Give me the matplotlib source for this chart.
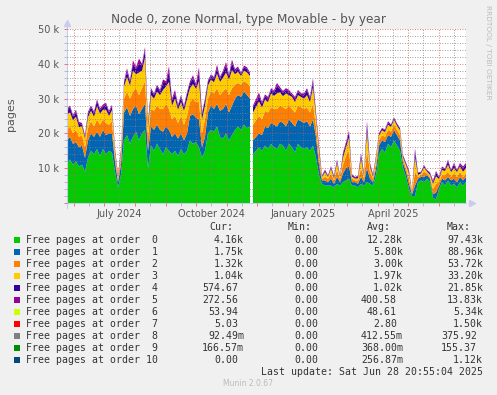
import datetime as dt
import numpy as np
import matplotlib
matplotlib.use("Agg")
from matplotlib import pyplot as plt
import matplotlib.dates as mdates
from matplotlib.patches import Rectangle
from matplotlib.ticker import MultipleLocator, FuncFormatter

W, H = 497, 395
nan = np.nan

# sample days after the first day of the graph (May 25 2024), one every 3 days
start = dt.datetime(2024, 5, 25)
days = [3 * i for i in range(134)] + [399]
days[62], days[63] = 184.5, 186   # no data around Nov 26

# free pages per order, in thousands of pages
order0 = [11.5, 12.5, 11, 12, 10.5, 11, 9, 13, 15, 14, 15.5, 13.5, 15.5, 14, 15, 14.5, 9, 4.5, 8, 18,
          19.5, 17, 19, 20.5, 18, 20, 21, 10, 16.5, 15, 17, 15.5, 14, 16, 15, 14, 15, 13.5, 15.5, 14,
          15, 18, 17, 17.5, 16, 13, 15, 20, 21, 20.5, 22, 19, 18.5, 20, 18, 19.5, 21, 22, 21, 22.5,
          21.5, 22, nan, 14, 16, 15, 16.5, 15.5, 17, 16, 15.5, 17, 16.5, 15, 17, 16, 14.5, 17, 16, 15.5,
          16, 15, 16.5, 13, 8, 5.5, 5, 5, 5, 4.5, 5.5, 5, 6, 6.5, 7, 5, 5, 4.5, 5.5, 5,
          6, 5.5, 5, 8, 14, 15.5, 14.5, 17, 16, 18, 16.5, 15, 10, 7.5, 4, 2, 2, 6, 6.5, 6,
          7, 6, 1.5, 1, 4, 6, 5, 6.5, 5, 5.5, 4.5, 6, 5, 6, 5.5]
order1 = [6.5, 6.5, 6, 5.5, 5.5, 5.5, 4, 5, 5, 5, 5, 5.5, 5.5, 5.5, 5, 5.5, 3, 1.5, 3, 8,
          8, 8, 8, 7.5, 7.5, 7, 7.5, 5, 5.5, 6, 5.5, 5.5, 6.5, 6, 6, 5, 5, 5, 4.5, 4,
          5, 7, 8.5, 7, 8, 3, 4, 6, 7, 6.5, 6.5, 7.5, 8.5, 8.5, 8, 8.5, 9, 9, 9.5, 9.5,
          9.5, 8, nan, 4, 4, 4.5, 5.5, 6, 6, 6.5, 6.5, 6.5, 6.5, 7, 7, 7, 7.5, 7, 7.5, 7.5,
          7.5, 7, 7.5, 6, 3, 1, 1.5, 1, 2, 1, 2, 1, 2.5, 3.5, 3.5, 1, 1, 1, 2, 1,
          4, 1.5, 1, 2, 2.5, 2.5, 3, 2.5, 3, 3, 3, 3, 1.5, 1.5, 1.5, 0.5, 3, 1, 1, 1.5,
          1, 1, 1, 2, 1, 1, 1.5, 1, 1.5, 1.5, 1.5, 1.5, 1.5, 1.5, 1.5]
order2 = [3, 3, 3, 3.5, 3, 3, 3, 3.5, 3.5, 3, 3.5, 3.5, 3, 3.5, 2.5, 3.5, 1.5, 1, 2, 4,
          4.5, 5, 5, 5, 5.5, 6, 6.5, 4, 5, 5.5, 5.5, 6, 6.5, 6.5, 6, 5, 5, 4.5, 5, 4.5,
          5, 4, 4.5, 4.5, 5, 4, 5, 4, 4, 4.5, 4.5, 4.5, 5, 4.5, 5, 5, 4, 3.5, 3.5, 3,
          3.5, 3.5, nan, 4.5, 5, 4.5, 4.5, 4.5, 4.5, 4.5, 5, 4.5, 4.5, 5, 4, 4, 4, 4, 4, 4,
          4, 4, 4.5, 3, 2, 0.5, 1, 1, 1.5, 1, 2, 1, 2.5, 3.5, 4.5, 1, 0.5, 1, 2.5, 1,
          5, 2, 1, 1.5, 1.5, 1.5, 1.5, 1.5, 1.5, 1.5, 1.5, 1.5, 1, 1, 1.5, 0.5, 4, 0.5, 0.5, 1.5,
          0.5, 0.5, 1.5, 2.5, 1, 1, 1.5, 1.5, 1, 1.5, 1.5, 1.5, 1, 1, 1]
order3 = [4.5, 4, 3.8, 3.8, 2.8, 2.5, 2.5, 3.2, 3, 2.8, 3.8, 3.2, 2.8, 3.8, 2.5, 3.2, 1.2, 0.6, 1.5, 3.5,
          4.2, 3.8, 6, 4, 6.5, 5, 6.8, 2.8, 4, 3.5, 4, 4, 5.5, 5, 7.8, 4, 5, 3.8, 4, 4,
          4.8, 4, 4.2, 3.8, 6, 4, 4, 3.8, 3.5, 3.2, 4.2, 3.8, 4, 4.5, 4.5, 5.2, 3, 3.2, 2.5, 3,
          3, 3, nan, 3.5, 4.2, 3.5, 3.2, 3, 4, 3.8, 4.5, 3.8, 3.2, 4.5, 3, 3.5, 3, 3, 3, 3,
          3.5, 3, 4.8, 2.8, 2, 0.5, 1.4, 0.5, 1.4, 0.6, 2, 0.5, 2, 2.5, 3.8, 0.6, 0.5, 0.6, 2.8, 0.9,
          5.5, 1.5, 0.6, 1.4, 1.4, 1.4, 1.4, 1.5, 1.4, 1.4, 1.2, 1.4, 0.6, 0.9, 1.5, 0.2, 4.2, 0.6, 0.5, 1.2,
          0.5, 0.6, 1.5, 2.2, 0.9, 1.5, 1.2, 2, 1.4, 1.5, 1.4, 1.5, 1.5, 1.5, 1.2]
order4 = [1, 1.5, 1, 1.5, 1, 0.5, 0.5, 1, 1, 1, 1.5, 1, 1, 1.5, 1, 1, 0.5, 0.5, 0.5, 1,
          1.5, 1, 2, 1.5, 2.5, 1.5, 2, 1, 1.5, 1, 1.5, 1, 2, 1, 3, 1.5, 1.5, 1, 1.5, 1,
          1.5, 1.5, 1.5, 1, 2.5, 1.5, 1.5, 1, 1, 1, 1.5, 1, 1.5, 2, 1, 2, 1, 1, 0.5, 1,
          1, 0.5, nan, 1.5, 1.5, 1, 1, 1, 1, 1, 2, 1, 1, 1, 1, 0.5, 1, 1, 0.5, 1,
          1.5, 1, 1.5, 1, 1, 0.3, 0.5, 0.3, 0.5, 0.5, 0.5, 0.3, 1, 1, 1.5, 0.5, 0.3, 0.5, 1, 0.5,
          2, 0.5, 0.5, 0.5, 0.5, 0.5, 0.5, 0.5, 0.5, 0.5, 0.5, 0.5, 0.5, 0.5, 0.5, 0.2, 1.5, 0.5, 0.3, 0.5,
          0.3, 0.5, 0.5, 1, 0.5, 0.5, 0.5, 1, 0.5, 1, 0.5, 0.5, 1, 1, 0.5]
order5 = [0.5, 0.5, 0.5, 0.5, 0.5, 0.5, 0.5, 0.5, 0.5, 0.5, 0.5, 0.5, 0.5, 0.5, 0.5, 0.5, 0.5, 0.2, 0.5, 0.5,
          1, 0.5, 1, 0.5, 1.5, 0.5, 1, 0.5, 0.5, 0.5, 0.5, 0.5, 1, 0.5, 1.5, 0.5, 1, 0.5, 0.5, 0.5,
          0.5, 0.5, 1, 0.5, 1.5, 0.5, 0.5, 0.5, 0.5, 0.5, 1, 0.5, 0.5, 1, 0.5, 1, 0.5, 0.5, 0.5, 0.5,
          0.5, 0.5, nan, 0.5, 1, 0.5, 0.5, 0.5, 0.5, 0.5, 1, 0.5, 0.5, 0.5, 0.5, 0.5, 0.5, 0.5, 0.5, 0.5,
          0.5, 0.5, 1, 0.5, 0.5, 0.2, 0.2, 0.2, 0.2, 0.2, 0.5, 0.2, 0.5, 0.5, 0.5, 0.2, 0.2, 0.2, 0.5, 0.2,
          1, 0.5, 0.2, 0.2, 0.2, 0.2, 0.2, 0.5, 0.2, 0.2, 0.2, 0.2, 0.2, 0.2, 0.5, 0.1, 1, 0.2, 0.2, 0.2,
          0.2, 0.2, 0.5, 0.5, 0.2, 0.5, 0.2, 0.5, 0.2, 0.5, 0.2, 0.5, 0.5, 0.5, 0.2]

colors = ["#00CC00", "#0066B3", "#FF8000", "#FFCC00", "#330099", "#990099",
          "#CCFF00", "#FF0000", "#808080", "#008F00", "#00487D"]
labels = ["Free pages at order %2d" % n for n in range(11)]
cur = ["4.16k", "1.75k", "1.32k", "1.04k", "574.67", "272.56", "53.94", "5.03", "92.49m", "166.57m", "0.00"]
mins = ["0.00"] * 11
avg = ["12.28k", "5.80k", "3.00k", "1.97k", "1.02k", "400.58", "48.61", "2.80", "412.55m", "368.00m", "256.87m"]
mx = ["97.43k", "88.96k", "53.72k", "33.20k", "21.85k", "13.83k", "5.34k", "1.50k", "375.92", "155.37", "1.12k"]

fig = plt.figure(figsize=(W / 100, H / 100), dpi=100, facecolor="#F0F0F0")


def fx(px):
    return px / W


def fy(py):
    return 1 - py / H


ax = fig.add_axes([fx(67), fy(203), 399 / W, 174 / H])
ax.set_facecolor("white")

t0 = mdates.date2num(start)
x = [t0 + d for d in days]
layers = [np.array(s) * 1000 for s in (order0, order1, order2, order3, order4, order5)]
ax.stackplot(x, *layers, colors=colors[:6], linewidth=0)

ax.set_xlim(t0, t0 + 399)
ax.set_ylim(0, 50000)

# grid on top like rrdtool
ax.set_axisbelow(False)
ax.xaxis.set_major_locator(mdates.MonthLocator())
ax.xaxis.set_minor_locator(mdates.MonthLocator(bymonthday=16))
ax.xaxis.set_major_formatter(FuncFormatter(lambda v, p: ""))


def month_label(v, p):
    d = mdates.num2date(v)
    return d.strftime("%B %Y") if d.month in (1, 4, 7, 10) else ""


ax.xaxis.set_minor_formatter(FuncFormatter(month_label))
ax.yaxis.set_major_locator(MultipleLocator(10000))
ax.yaxis.set_minor_locator(MultipleLocator(2000))
ax.yaxis.set_major_formatter(FuncFormatter(lambda v, p: "" if v == 0 else "%d k" % (v / 1000)))

ax.grid(which="major", color=(0.9, 0.3, 0.3, 0.55), linestyle=(0, (1, 2)), linewidth=0.6)
ax.grid(which="minor", color=(0.5, 0.5, 0.5, 0.4), linestyle=(0, (1, 2)), linewidth=0.6)
ax.tick_params(which="major", length=2.5, width=0.6, color=(0.9, 0.4, 0.4), labelsize=7,
               labelcolor="#555555", pad=2)
ax.tick_params(which="minor", length=2, width=0.6, color=(0.7, 0.7, 0.7), labelsize=7,
               labelcolor="#555555", pad=2.5)
ax.tick_params(axis="y", which="major", pad=3)

for s in ("top", "right"):
    ax.spines[s].set_visible(False)
for s in ("left", "bottom"):
    ax.spines[s].set_color("#C8CCF0")
    ax.spines[s].set_linewidth(0.8)
ax.spines["left"].set_bounds(-1500, 51500)
ax.plot([0], [1.035], marker="^", color="#C8CCF0", markersize=4, transform=ax.transAxes, clip_on=False)
ax.plot([1.015], [0], marker=">", color="#C8CCF0", markersize=4, transform=ax.transAxes, clip_on=False)

fig.text(fx(248), fy(19), "Node 0, zone Normal, type Movable - by year", ha="center", va="center",
         fontsize=8.7, color="#555555")
fig.text(fx(11), fy(114), "pages", rotation=90, ha="center", va="center", fontsize=8, color="#555555")
fig.text(fx(488), fy(5), "RRDTOOL / TOBI OETIKER", rotation=270, ha="center", va="top",
         fontsize=5.3, color="#BBBBBB")

# legend table
mono = dict(family="DejaVu Sans Mono", fontsize=7.1, color="#333333", va="center")
cw = 5.95
for head, px in (("Cur:", 209), ("Min:", 288), ("Avg:", 367), ("Max:", 447)):
    fig.text(fx(px), fy(227), head, ha="left", **mono)


def put(val, edge, py):
    e = edge if val[-1].isalpha() else edge - cw
    fig.text(fx(e), fy(py), val, ha="right", **mono)


for i in range(11):
    py = 240 + 12 * i
    fig.add_artist(Rectangle((fx(14), fy(py + 3)), 6 / W, 6 / H, transform=fig.transFigure,
                             facecolor=colors[i], edgecolor="none"))
    fig.text(fx(26.5), fy(py), labels[i], ha="left", **mono)
    put(cur[i], 244, py)
    put(mins[i], 324, py)
    put(avg[i], 403, py)
    put(mx[i], 483, py)

fig.text(fx(483), fy(372), "Last update: Sat Jun 28 20:55:04 2025", ha="right", **mono)
fig.text(fx(248), fy(384), "Munin 2.0.67", ha="center", va="center", fontsize=5.5, color="#BBBBBB")

fig.savefig("out.png", dpi=100, facecolor=fig.get_facecolor())
